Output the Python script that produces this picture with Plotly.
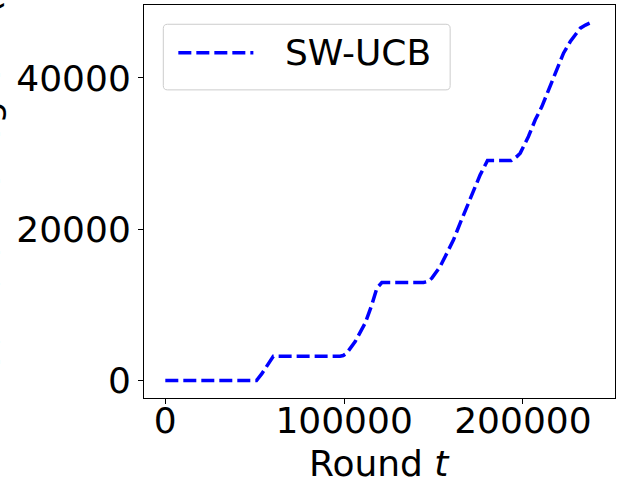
import plotly.graph_objects as go

# cumulative regret of SW-UCB
rounds = [0, 51000, 54000, 57600, 60400, 97700, 99500, 101500, 106200, 111800,
          115500, 118300, 121100, 144400, 147000, 149100, 153700, 157500, 161200,
          164900, 168700, 172400, 176100, 180200, 193500, 196600, 198500, 203100,
          206900, 210600, 214300, 218100, 222700, 226500, 229500, 232100, 235000,
          237300]
regret = [0, 0, 900, 2300, 3200, 3200, 3300, 3620, 5150, 7590,
          10000, 12200, 12950, 12950, 13100, 13540, 15070, 16840, 18600,
          20810, 23000, 25210, 27190, 29080, 29080, 29610, 30060, 32260,
          34470, 36220, 38430, 40640, 43280, 44820, 45850, 46590, 47000,
          47250]
series_name = "SW-UCB"
x_ticks = [0, 100000, 200000]
y_ticks = [0, 20000, 40000]

FONT = "DejaVu Sans"
BLUE = "#0000ff"
DASH = "13px,5px"

fig = go.Figure()
fig.add_trace(go.Scatter(
    x=rounds, y=regret, mode="lines", name=series_name,
    line=dict(color=BLUE, width=3.5, dash=DASH),
    showlegend=False,
))

axis_common = dict(
    showgrid=False, zeroline=False, automargin=False,
    showline=True, linecolor="black", linewidth=1, mirror=True,
    ticks="outside", ticklen=5, tickwidth=1, tickcolor="black",
    tickfont=dict(family=FONT, size=36, color="black"),
    tickformat="d",
)

fig.update_xaxes(range=[-11920, 251500], tickvals=x_ticks,
                 ticklabelstandoff=-14, **axis_common)
fig.update_yaxes(range=[-2320, 49650], tickvals=y_ticks, **axis_common)

# hand-made legend so the line sample is as long as matplotlib's
r = 0.009
x0, x1, y0, y1 = 0.041, 0.650, 0.784, 0.951
ry = r * 470.7 / 393
legend_path = (
    f"M{x0 + r},{y0} L{x1 - r},{y0} Q{x1},{y0} {x1},{y0 + ry} "
    f"L{x1},{y1 - ry} Q{x1},{y1} {x1 - r},{y1} "
    f"L{x0 + r},{y1} Q{x0},{y1} {x0},{y1 - ry} "
    f"L{x0},{y0 + ry} Q{x0},{y0} {x0 + r},{y0} Z"
)
fig.add_shape(type="path", xref="paper", yref="paper", path=legend_path,
              line=dict(color="#cccccc", width=1), fillcolor="rgba(255,255,255,0.8)")
fig.add_shape(type="line", xref="paper", yref="paper",
              x0=0.0729, x1=0.2322, y0=0.8786, y1=0.8786,
              line=dict(color=BLUE, width=3.5, dash=DASH))
fig.add_annotation(text=series_name, xref="paper", yref="paper",
                   x=0.296, y=0.8786, xanchor="left", yanchor="middle",
                   showarrow=False, font=dict(family=FONT, size=36, color="black"))

# axis titles
fig.add_annotation(text="Round <i>t</i>", xref="paper", yref="paper",
                   x=0.5, y=-0.1654, xanchor="center", yanchor="middle",
                   showarrow=False, font=dict(family=FONT, size=36, color="black"))
fig.add_annotation(text="Cumulative regret <i>R</i>(<i>T</i>)", xref="paper", yref="paper",
                   x=-0.3357, y=0.580, xanchor="center", yanchor="middle",
                   textangle=-90, showarrow=False,
                   font=dict(family=FONT, size=36, color="black"))

fig.update_layout(
    width=640, height=480,
    margin=dict(l=144, r=25, t=5, b=82),
    paper_bgcolor="white", plot_bgcolor="white",
    font=dict(family=FONT, size=36, color="black"),
)

fig.write_html("out.html", config={"displayModeBar": False},
               post_script="document.body.style.margin='0';")
